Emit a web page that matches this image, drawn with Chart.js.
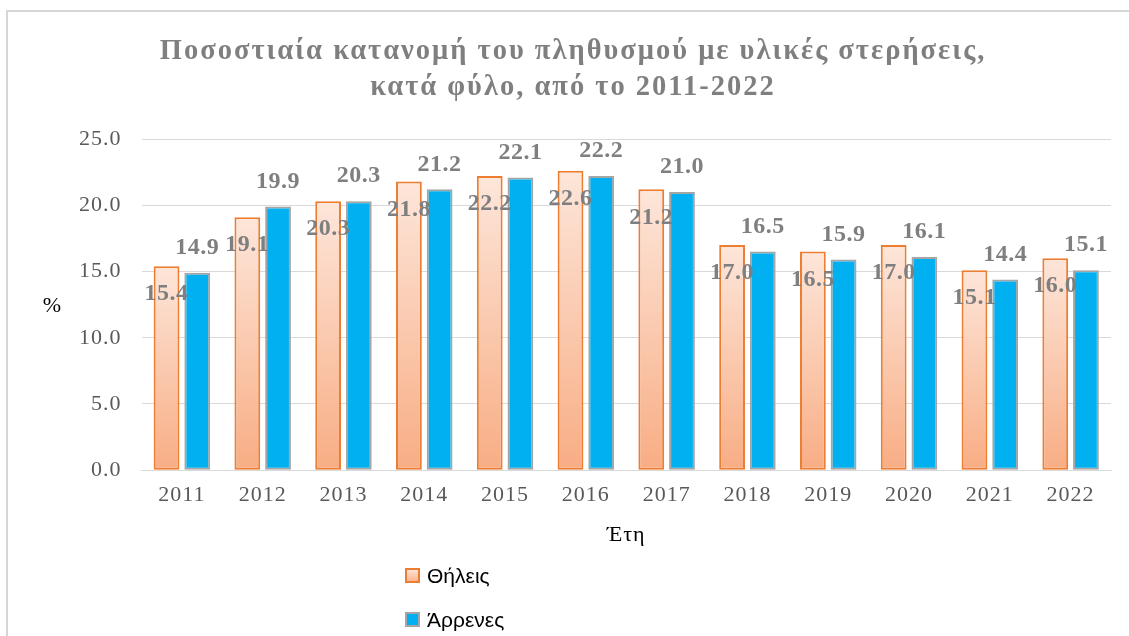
<!DOCTYPE html>
<html>
<head>
<meta charset="utf-8">
<script src="https://cdn.jsdelivr.net/npm/chart.js@4"></script>
<style>
  body { margin: 0; background: #fff; }
  #wrap { width: 1129px; height: 636px; position: relative; }
</style>
</head>
<body>
<div id="wrap"><canvas id="chart" width="1129" height="636"></canvas></div>
<script>
// Δεδομένα
const years = ['2011', '2012', '2013', '2014', '2015', '2016', '2017', '2018', '2019', '2020', '2021', '2022'];
const female = [15.4, 19.1, 20.3, 21.8, 22.2, 22.6, 21.2, 17.0, 16.5, 17.0, 15.1, 16.0];
const male = [14.9, 19.9, 20.3, 21.2, 22.1, 22.2, 21.0, 16.5, 15.9, 16.1, 14.4, 15.1];
const seriesNames = ['Θήλεις', 'Άρρενες'];
const titleLines = ['Ποσοστιαία κατανομή του πληθυσμού με υλικές στερήσεις,', 'κατά φύλο, από το 2011-2022'];

const serif = "'Liberation Serif', 'Times New Roman', serif";
const grey = '#7f7f7f';

// gradient per bar (light on top, darker at the bottom)
function orangeFill(ctx) {
  var chart = ctx.chart;
  var y = chart.scales && chart.scales.y;
  if (!chart.chartArea || !y || ctx.raw === undefined) return '#fbc9ad';
  var top = y.getPixelForValue(ctx.raw);
  var bottom = y.getPixelForValue(0);
  var g = chart.ctx.createLinearGradient(0, top, 0, bottom);
  g.addColorStop(0, '#fde6da');
  g.addColorStop(1, '#f8ad84');
  return g;
}

const extras = {
  id: 'extras',
  beforeLayout(chart) {
    chart.ctx.letterSpacing = '1px';
  },
  beforeDraw(chart) {
    var c = chart.ctx;
    c.letterSpacing = '1px';
    c.save();
    c.strokeStyle = '#d6d6d6';
    c.lineWidth = 2;
    c.beginPath();
    c.moveTo(7, chart.height);
    c.lineTo(7, 11);
    c.lineTo(chart.width, 11);
    c.stroke();
    c.restore();
  },
  afterDatasetsDraw(chart) {
    var c = chart.ctx;
    c.save();
    c.letterSpacing = '0.5px';
    c.font = 'bold 24px ' + serif;
    c.fillStyle = grey;
    c.textAlign = 'center';
    c.textBaseline = 'middle';
    chart.data.datasets.forEach(function (ds, i) {
      chart.getDatasetMeta(i).data.forEach(function (bar, j) {
        var txt = ds.data[j].toFixed(1);
        if (i === 0) c.fillText(txt, bar.x, bar.y + 28);
        else c.fillText(txt, bar.x, bar.y - 25);
      });
    });
    c.restore();
  },
  afterDraw(chart) {
    var c = chart.ctx;
    var area = chart.chartArea;
    c.save();
    // title
    c.letterSpacing = '2px';
    c.font = 'bold 28.5px ' + serif;
    c.fillStyle = grey;
    c.textAlign = 'center';
    c.textBaseline = 'middle';
    c.fillText(titleLines[0], 573, 52);
    c.fillText(titleLines[1], 573, 88);

    // y title, horizontal
    c.letterSpacing = '0px';
    c.font = '22px ' + serif;
    c.fillStyle = '#000';
    c.fillText('%', 52, (area.top + area.bottom) / 2 + 2);

    // legend, vertical
    var lx = 406, rows = [576, 620];
    c.font = "21px 'Liberation Sans', Arial, sans-serif";
    c.textAlign = 'left';
    rows.forEach(function (ry, i) {
      if (i === 0) {
        var g = c.createLinearGradient(0, ry - 7, 0, ry + 7);
        g.addColorStop(0, '#fde6da');
        g.addColorStop(1, '#f8ad84');
        c.fillStyle = g;
        c.strokeStyle = '#ed7d31';
      } else {
        c.fillStyle = '#00b0f0';
        c.strokeStyle = '#a5a5a5';
      }
      c.lineWidth = 2;
      c.fillRect(lx, ry - 7, 13, 13);
      c.strokeRect(lx, ry - 7, 13, 13);
      c.fillStyle = '#000';
      c.fillText(seriesNames[i], lx + 21, ry + 1);
    });
    c.restore();
  }
};

new Chart(document.getElementById('chart'), {
  type: 'bar',
  data: {
    labels: years,
    datasets: [
      {
        label: seriesNames[0],
        data: female,
        backgroundColor: orangeFill,
        borderColor: '#ed7d31',
        borderWidth: 2,
        borderSkipped: false
      },
      {
        label: seriesNames[1],
        data: male,
        backgroundColor: '#00b0f0',
        borderColor: '#a5a5a5',
        borderWidth: 2,
        borderSkipped: false
      }
    ]
  },
  options: {
    responsive: false,
    animation: false,
    categoryPercentage: 0.76,
    barPercentage: 0.84,
    layout: { padding: { left: 59, right: 18, top: 139, bottom: 88 } },
    plugins: {
      legend: { display: false },
      tooltip: { enabled: false },
      title: { display: false }
    },
    scales: {
      x: {
        grid: { display: false },
        border: { color: '#d9d9d9' },
        ticks: { color: '#595959', font: { family: serif, size: 22 }, padding: 4 },
        title: {
          display: true,
          text: 'Έτη',
          color: '#000',
          font: { family: serif, size: 22 },
          padding: { top: 9, bottom: 0 }
        }
      },
      y: {
        min: 0,
        max: 25,
        ticks: {
          stepSize: 5,
          color: '#595959',
          font: { family: serif, size: 22 },
          padding: 20,
          callback: function (v) { return v.toFixed(1); }
        },
        grid: { color: '#d9d9d9', drawTicks: false },
        border: { display: false }
      }
    }
  },
  plugins: [extras]
});
</script>
</body>
</html>
